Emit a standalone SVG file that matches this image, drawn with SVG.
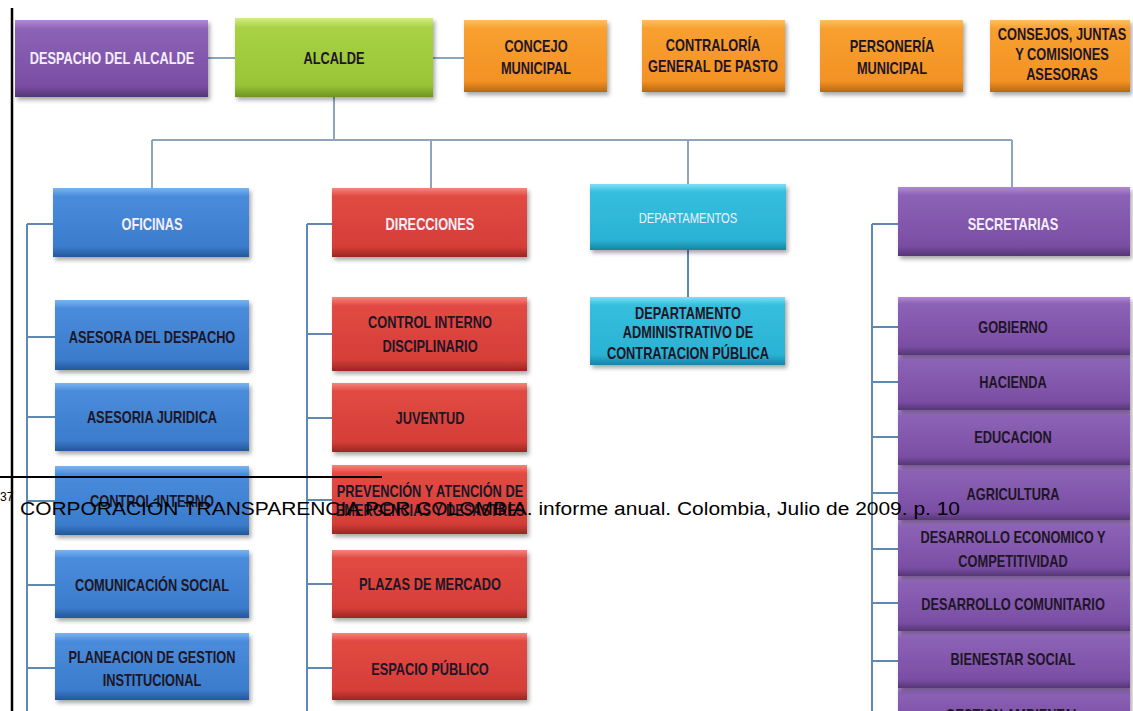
<svg xmlns="http://www.w3.org/2000/svg" width="1133" height="711" viewBox="0 0 1133 711">
  <defs>
    <!-- bevelled fills: light top edge, body, darker lower edge -->
    <linearGradient id="gPurple" x1="0" y1="0" x2="0" y2="1">
      <stop offset="0" stop-color="#b08ad4"/><stop offset="0.12" stop-color="#8c62b6"/>
      <stop offset="0.85" stop-color="#7a4ea4"/><stop offset="1" stop-color="#553675"/>
    </linearGradient>
    <linearGradient id="gGreen" x1="0" y1="0" x2="0" y2="1">
      <stop offset="0" stop-color="#d4ec88"/><stop offset="0.12" stop-color="#a9d145"/>
      <stop offset="0.85" stop-color="#98c536"/><stop offset="1" stop-color="#6f9420"/>
    </linearGradient>
    <linearGradient id="gOrange" x1="0" y1="0" x2="0" y2="1">
      <stop offset="0" stop-color="#fcc060"/><stop offset="0.12" stop-color="#f8a030"/>
      <stop offset="0.85" stop-color="#f39224"/><stop offset="1" stop-color="#b86810"/>
    </linearGradient>
    <linearGradient id="gBlue" x1="0" y1="0" x2="0" y2="1">
      <stop offset="0" stop-color="#7ab4f0"/><stop offset="0.12" stop-color="#4a8cdc"/>
      <stop offset="0.85" stop-color="#3b7ccc"/><stop offset="1" stop-color="#24569a"/>
    </linearGradient>
    <linearGradient id="gRed" x1="0" y1="0" x2="0" y2="1">
      <stop offset="0" stop-color="#f5857c"/><stop offset="0.12" stop-color="#e14a42"/>
      <stop offset="0.85" stop-color="#d63e38"/><stop offset="1" stop-color="#9a2622"/>
    </linearGradient>
    <linearGradient id="gCyan" x1="0" y1="0" x2="0" y2="1">
      <stop offset="0" stop-color="#7ee0f4"/><stop offset="0.12" stop-color="#36bede"/>
      <stop offset="0.85" stop-color="#2ab2d4"/><stop offset="1" stop-color="#17849f"/>
    </linearGradient>
    <filter id="shadow" x="-10%" y="-10%" width="125%" height="135%">
      <feDropShadow dx="2" dy="3" stdDeviation="2" flood-color="#000" flood-opacity="0.35"/>
    </filter>
  </defs>
  <style>
    .box { filter: url(#shadow); }
    .purple { fill: url(#gPurple); }
    .green { fill: url(#gGreen); }
    .orange { fill: url(#gOrange); }
    .blue { fill: url(#gBlue); }
    .red { fill: url(#gRed); }
    .cyan { fill: url(#gCyan); }
    /* labels are set in a narrowed face: x positions are given in the 0.8-scaled space */
    .lbl { font-family: "Liberation Sans", Arial, sans-serif; font-weight: bold; font-size: 16px; text-anchor: middle; dominant-baseline: central; }
    .lt { fill: #f4eefa; }
    .dk { fill: #1e1626; }
    .thin { font-weight: normal; font-size: 14px; }
    .conn { fill: none; stroke: #5f88b4; stroke-width: 2; }
    .conn-top { fill: none; stroke: #8ea4bc; stroke-width: 2; }
    .note { font-family: "Liberation Sans", Arial, sans-serif; fill: #000; }
  </style>

  <rect width="1133" height="711" fill="#ffffff"/>

  <!-- page margin rule -->
  <line x1="12" y1="8" x2="12" y2="711" stroke="#000" stroke-width="2.5"/>

  <g id="connectors">
    <!-- top row links -->
    <path class="conn-top" d="M208 58 H235 M433 58 H464"/>
    <!-- mayor to the four branches -->
    <path class="conn-top" d="M334 97 V140 M152 140 H1012 M152 140 V188 M431 140 V188 M688 140 V184 M1012 140 V188"/>
    <!-- oficinas -->
    <path class="conn" d="M27 224 V711 M27 224 H55 M27 337 H55 M27 417 H55 M27 501 H55 M27 585 H55 M27 668 H55"/>
    <!-- direcciones -->
    <path class="conn" d="M307 224 V711 M307 224 H332 M307 334 H332 M307 418 H332 M307 500 H332 M307 584 H332 M307 668 H332"/>
    <!-- departamentos -->
    <path class="conn" d="M688 250 V297"/>
    <!-- secretarias -->
    <path class="conn" d="M872 224 V711 M872 224 H898 M872 327 H898 M872 382 H898 M872 437 H898 M872 493 H898 M872 549 H898 M872 603 H898 M872 661 H898"/>
  </g>

  <!-- top row -->
  <g id="despacho"><rect class="box purple" x="15" y="20" width="193" height="77"/>
    <text class="lbl lt" transform="scale(0.8 1)" x="140" y="58">DESPACHO DEL ALCALDE</text></g>
  <g id="alcalde"><rect class="box green" x="235" y="18" width="198" height="79"/>
    <text class="lbl dk" transform="scale(0.8 1)" x="417.5" y="58">ALCALDE</text></g>
  <g id="concejo"><rect class="box orange" x="464" y="20" width="143" height="72"/>
    <g class="lbl dk" transform="scale(0.8 1)"><text x="670" y="46">CONCEJO</text><text x="670" y="68">MUNICIPAL</text></g></g>
  <g id="contraloria"><rect class="box orange" x="642" y="20" width="143" height="72"/>
    <g class="lbl dk" transform="scale(0.8 1)"><text x="891.25" y="45">CONTRALORÍA</text><text x="891.25" y="66">GENERAL DE PASTO</text></g></g>
  <g id="personeria"><rect class="box orange" x="820" y="20" width="143" height="72"/>
    <g class="lbl dk" transform="scale(0.8 1)"><text x="1115" y="46">PERSONERÍA</text><text x="1115" y="68">MUNICIPAL</text></g></g>
  <g id="consejos"><rect class="box orange" x="990" y="20" width="140" height="72"/>
    <g class="lbl dk" transform="scale(0.8 1)"><text x="1327.5" y="34">CONSEJOS, JUNTAS</text><text x="1327.5" y="54">Y COMISIONES</text><text x="1327.5" y="74">ASESORAS</text></g></g>

  <!-- branch heads -->
  <g id="oficinas"><rect class="box blue" x="53" y="188" width="196" height="69"/>
    <text class="lbl lt" transform="scale(0.8 1)" x="190" y="224">OFICINAS</text></g>
  <g id="direcciones"><rect class="box red" x="332" y="188" width="195" height="69"/>
    <text class="lbl lt" transform="scale(0.8 1)" x="537.5" y="224">DIRECCIONES</text></g>
  <g id="departamentos"><rect class="box cyan" x="590" y="184" width="196" height="66"/>
    <text class="lbl lt thin" transform="scale(0.8 1)" x="860" y="219">DEPARTAMENTOS</text></g>
  <g id="secretarias"><rect class="box purple" x="898" y="187" width="232" height="69"/>
    <text class="lbl lt" transform="scale(0.8 1)" x="1266.25" y="224">SECRETARIAS</text></g>

  <!-- oficinas -->
  <g id="of-asesora"><rect class="box blue" x="55" y="300" width="194" height="70"/>
    <text class="lbl dk" transform="scale(0.8 1)" x="190" y="337">ASESORA DEL DESPACHO</text></g>
  <g id="of-juridica"><rect class="box blue" x="55" y="383" width="194" height="68"/>
    <text class="lbl dk" transform="scale(0.8 1)" x="190" y="417">ASESORIA JURIDICA</text></g>
  <g id="of-control"><rect class="box blue" x="55" y="466" width="194" height="69"/>
    <text class="lbl dk" transform="scale(0.8 1)" x="190" y="501">CONTROL INTERNO</text></g>
  <g id="of-comunicacion"><rect class="box blue" x="55" y="550" width="194" height="68"/>
    <text class="lbl dk" transform="scale(0.8 1)" x="190" y="585">COMUNICACIÓN  SOCIAL</text></g>
  <g id="of-planeacion"><rect class="box blue" x="55" y="633" width="194" height="67"/>
    <g class="lbl dk" transform="scale(0.8 1)"><text x="190" y="657">PLANEACION DE GESTION</text><text x="190" y="680">INSTITUCIONAL</text></g></g>

  <!-- direcciones -->
  <g id="di-control"><rect class="box red" x="332" y="297" width="195" height="74"/>
    <g class="lbl dk" transform="scale(0.8 1)"><text x="537.5" y="322">CONTROL INTERNO</text><text x="537.5" y="346">DISCIPLINARIO</text></g></g>
  <g id="di-juventud"><rect class="box red" x="332" y="383" width="195" height="69"/>
    <text class="lbl dk" transform="scale(0.8 1)" x="537.5" y="418">JUVENTUD</text></g>
  <g id="di-prevencion"><rect class="box red" x="332" y="465" width="195" height="69"/>
    <g class="lbl dk" transform="scale(0.8 1)"><text x="537.5" y="491">PREVENCIÓN Y ATENCIÓN DE</text><text x="537.5" y="510">EMERGENCIAS Y DESASTRES</text></g></g>
  <g id="di-plazas"><rect class="box red" x="332" y="550" width="195" height="68"/>
    <text class="lbl dk" transform="scale(0.8 1)" x="537.5" y="584">PLAZAS DE MERCADO</text></g>
  <g id="di-espacio"><rect class="box red" x="332" y="633" width="195" height="67"/>
    <text class="lbl dk" transform="scale(0.8 1)" x="537.5" y="669">ESPACIO PÚBLICO</text></g>

  <!-- departamentos -->
  <g id="de-contratacion"><rect class="box cyan" x="590" y="297" width="195" height="68"/>
    <g class="lbl dk" transform="scale(0.8 1)"><text x="860" y="313">DEPARTAMENTO</text><text x="860" y="332">ADMINISTRATIVO DE</text><text x="860" y="353">CONTRATACION PÚBLICA</text></g></g>

  <!-- secretarias (stacked, lower boxes drawn first) -->
  <g id="se-ambiental"><rect class="box purple" x="898" y="688" width="232" height="40"/>
    <text class="lbl dk" transform="scale(0.8 1)" x="1266.25" y="715">GESTION AMBIENTAL</text></g>
  <g id="se-bienestar"><rect class="box purple" x="898" y="631" width="232" height="57"/>
    <text class="lbl dk" transform="scale(0.8 1)" x="1266.25" y="659">BIENESTAR SOCIAL</text></g>
  <g id="se-comunitario"><rect class="box purple" x="898" y="576" width="232" height="55"/>
    <text class="lbl dk" transform="scale(0.8 1)" x="1266.25" y="604">DESARROLLO COMUNITARIO</text></g>
  <g id="se-economico"><rect class="box purple" x="898" y="520" width="232" height="56"/>
    <g class="lbl dk" transform="scale(0.8 1)"><text x="1266.25" y="537">DESARROLLO ECONOMICO Y</text><text x="1266.25" y="561">COMPETITIVIDAD</text></g></g>
  <g id="se-agricultura"><rect class="box purple" x="898" y="465" width="232" height="55"/>
    <text class="lbl dk" transform="scale(0.8 1)" x="1266.25" y="494">AGRICULTURA</text></g>
  <g id="se-educacion"><rect class="box purple" x="898" y="410" width="232" height="55"/>
    <text class="lbl dk" transform="scale(0.8 1)" x="1266.25" y="437">EDUCACION</text></g>
  <g id="se-hacienda"><rect class="box purple" x="898" y="355" width="232" height="55"/>
    <text class="lbl dk" transform="scale(0.8 1)" x="1266.25" y="382">HACIENDA</text></g>
  <g id="se-gobierno"><rect class="box purple" x="898" y="297" width="232" height="58"/>
    <text class="lbl dk" transform="scale(0.8 1)" x="1266.25" y="327">GOBIERNO</text></g>

  <!-- footnote printed over the chart -->
  <g id="footnote">
    <line x1="0" y1="477" x2="382" y2="477" stroke="#000" stroke-width="2"/>
    <text class="note" x="0" y="501" font-size="12">37</text>
    <text class="note" x="20" y="515" font-size="18" textLength="940" lengthAdjust="spacingAndGlyphs">CORPORACIÓN TRANSPARENCIA POR COLOMBIA. informe anual. Colombia, Julio de 2009. p. 10</text>
  </g>
</svg>
